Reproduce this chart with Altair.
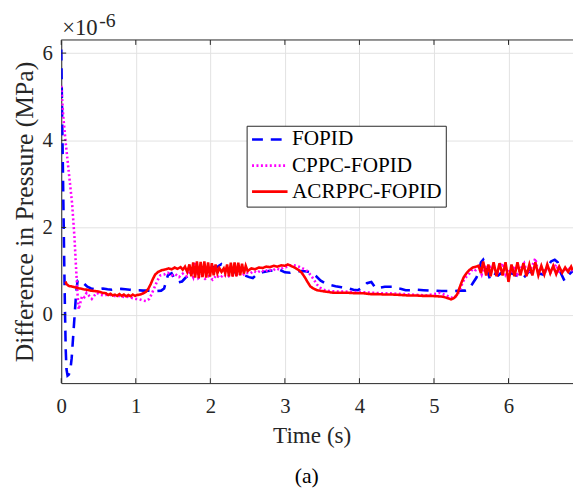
import altair as alt
import pandas as pd

# Series; values in units of 1e-6 MPa (axis shows x10^-6)
series_names = ["FOPID", "CPPC-FOPID", "ACRPPC-FOPID"]
series_colors = ["#0000ff", "#ff00ff", "#ff0000"]

fopid = [(0, 6.08), (0.01, 4.8), (0.02, 3.6), (0.03, 2.4), (0.04, 1.2), (0.05, 0.1), (0.06, -0.8),
         (0.07, -1.25), (0.085, -1.4), (0.1, -1.38), (0.12, -1.3), (0.14, -1.0), (0.16, -0.5),
         (0.18, 0.0), (0.2, 0.5), (0.22, 0.78), (0.25, 0.8), (0.3, 0.72), (0.35, 0.64), (0.4, 0.6),
         (0.45, 0.58), (0.5, 0.58), (0.56, 0.6), (0.62, 0.58), (0.68, 0.57), (0.74, 0.58), (0.8, 0.59),
         (0.86, 0.58), (0.92, 0.57), (0.98, 0.56), (1.04, 0.56), (1.1, 0.55), (1.16, 0.55), (1.22, 0.54),
         (1.28, 0.54), (1.34, 0.55), (1.38, 0.6), (1.43, 0.9), (1.48, 0.95), (1.52, 0.82), (1.57, 0.74),
         (1.62, 0.76), (1.67, 0.85), (1.72, 0.92), (1.8, 0.98), (1.88, 1.0), (1.95, 1.04), (2.02, 1.1),
         (2.08, 1.08), (2.15, 1.16), (2.22, 1.06), (2.3, 0.98), (2.38, 0.95), (2.46, 0.9), (2.52, 0.86),
         (2.57, 0.84), (2.63, 0.93), (2.7, 0.97), (2.78, 1.0), (2.86, 1.02), (2.93, 1.03), (3.0, 0.97),
         (3.07, 0.96), (3.15, 0.99), (3.23, 1.0), (3.3, 0.99), (3.36, 0.96), (3.42, 0.88), (3.48, 0.78),
         (3.54, 0.72), (3.6, 0.68), (3.68, 0.65), (3.76, 0.63), (3.84, 0.61), (3.92, 0.57), (3.98, 0.56),
         (4.04, 0.62), (4.1, 0.72), (4.16, 0.75), (4.22, 0.6), (4.28, 0.62), (4.34, 0.64), (4.4, 0.64),
         (4.47, 0.64), (4.54, 0.6), (4.62, 0.56), (4.7, 0.56), (4.78, 0.57), (4.86, 0.56), (4.94, 0.55),
         (5.02, 0.55), (5.1, 0.54), (5.18, 0.54), (5.26, 0.54), (5.34, 0.55), (5.42, 0.55), (5.47, 0.58),
         (5.52, 0.72), (5.57, 0.85), (5.6, 1.0), (5.63, 1.2), (5.66, 1.26), (5.7, 1.1), (5.75, 0.82),
         (5.8, 0.95), (5.86, 0.9), (5.92, 0.98), (5.98, 0.88), (6.04, 0.95), (6.1, 0.9), (6.16, 0.98),
         (6.22, 0.88), (6.28, 1.0), (6.34, 0.9), (6.4, 0.95), (6.46, 0.92), (6.52, 1.08), (6.57, 1.22),
         (6.62, 1.26), (6.66, 1.2), (6.7, 0.96), (6.75, 0.78), (6.8, 0.9), (6.86, 1.0)]

cppc_fopid = [(0, 5.25), (0.026, 4.57), (0.058, 3.97), (0.1, 3.29), (0.146, 2.54), (0.177, 1.78),
              (0.2, 1.03), (0.22, 0.43), (0.235, 0.12), (0.26, 0.3), (0.28, 0.43), (0.31, 0.4),
              (0.34, 0.5), (0.38, 0.42), (0.41, 0.36), (0.45, 0.45), (0.48, 0.5), (0.53, 0.45),
              (0.58, 0.44), (0.63, 0.47), (0.68, 0.44), (0.73, 0.42), (0.79, 0.43), (0.85, 0.4),
              (0.9, 0.41), (0.95, 0.38), (1.0, 0.36), (1.05, 0.35), (1.1, 0.32), (1.14, 0.31),
              (1.18, 0.36), (1.21, 0.46), (1.25, 0.62), (1.29, 0.78), (1.33, 0.9), (1.38, 0.92),
              (1.43, 0.96), (1.48, 0.9), (1.53, 0.93), (1.58, 0.86), (1.63, 0.94), (1.68, 0.88),
              (1.73, 1.0), (1.77, 0.86), (1.8, 1.2), (1.84, 0.84), (1.88, 0.9), (1.93, 0.82),
              (1.98, 0.88), (2.03, 0.8), (2.08, 0.9), (2.13, 0.84), (2.18, 0.92), (2.23, 0.86),
              (2.28, 0.92), (2.33, 0.88), (2.38, 0.95), (2.43, 0.9), (2.48, 0.96), (2.53, 0.94),
              (2.58, 1.0), (2.63, 0.96), (2.68, 1.02), (2.73, 0.98), (2.78, 1.04), (2.83, 1.0),
              (2.88, 1.06), (2.93, 1.03), (2.98, 1.08), (3.04, 1.1), (3.1, 1.14), (3.15, 1.12),
              (3.19, 1.1), (3.24, 1.06), (3.28, 1.03), (3.32, 0.96), (3.35, 0.9), (3.39, 0.8),
              (3.43, 0.69), (3.47, 0.62), (3.52, 0.57), (3.6, 0.54), (3.7, 0.53), (3.8, 0.53),
              (3.9, 0.52), (4.0, 0.52), (4.1, 0.51), (4.2, 0.5), (4.3, 0.49), (4.4, 0.49),
              (4.5, 0.48), (4.6, 0.47), (4.7, 0.46), (4.8, 0.45), (4.9, 0.44), (5.0, 0.47),
              (5.08, 0.5), (5.15, 0.45), (5.23, 0.39), (5.31, 0.43), (5.35, 0.58), (5.39, 0.76),
              (5.44, 0.88), (5.48, 0.95), (5.52, 1.05), (5.56, 1.02), (5.6, 1.1), (5.64, 0.92),
              (5.68, 1.15), (5.72, 0.95), (5.76, 1.1), (5.8, 1.14), (5.84, 0.9), (5.88, 1.05),
              (5.92, 1.18), (5.96, 0.92), (6.0, 1.05), (6.04, 0.95), (6.08, 1.1), (6.12, 0.92),
              (6.16, 1.05), (6.21, 1.18), (6.25, 0.95), (6.3, 1.05), (6.36, 1.29), (6.4, 0.95),
              (6.44, 1.05), (6.48, 0.92), (6.52, 1.1), (6.56, 0.95), (6.6, 1.05), (6.64, 1.15),
              (6.68, 0.95), (6.72, 1.05), (6.76, 0.98), (6.8, 1.08), (6.86, 1.0)]

acrppc_fopid = [(0.058, 0.76), (0.07, 0.7), (0.1, 0.66), (0.15, 0.64), (0.2, 0.62), (0.25, 0.6),
                (0.3, 0.58), (0.35, 0.57), (0.4, 0.55), (0.45, 0.54), (0.5, 0.53), (0.55, 0.5),
                (0.6, 0.49), (0.63, 0.45), (0.66, 0.48), (0.69, 0.44), (0.72, 0.46), (0.75, 0.43),
                (0.78, 0.47), (0.81, 0.43), (0.84, 0.46), (0.87, 0.42), (0.9, 0.45), (0.93, 0.42),
                (0.96, 0.46), (0.99, 0.43), (1.02, 0.45), (1.06, 0.46), (1.1, 0.49), (1.14, 0.53),
                (1.17, 0.6), (1.2, 0.7), (1.23, 0.82), (1.26, 0.92), (1.3, 0.98), (1.35, 1.02),
                (1.4, 1.04), (1.44, 1.06), (1.48, 1.04), (1.52, 1.08), (1.56, 1.05), (1.6, 1.09),
                (1.63, 1.03), (1.66, 1.1), (1.69, 0.98), (1.72, 1.15), (1.745, 0.88), (1.77, 1.2),
                (1.795, 0.85), (1.82, 1.22), (1.845, 0.84), (1.87, 1.21), (1.895, 0.86), (1.92, 1.22),
                (1.945, 0.85), (1.97, 1.2), (1.995, 0.87), (2.02, 1.18), (2.045, 0.9), (2.07, 1.15),
                (2.095, 0.95), (2.12, 1.07), (2.15, 0.98), (2.18, 1.06), (2.2, 0.95), (2.225, 1.15),
                (2.25, 0.88), (2.275, 1.19), (2.3, 0.87), (2.325, 1.2), (2.35, 0.88), (2.375, 1.19),
                (2.4, 0.9), (2.425, 1.17), (2.45, 0.94), (2.475, 1.12), (2.5, 1.0), (2.55, 1.06),
                (2.6, 1.04), (2.65, 1.08), (2.7, 1.07), (2.75, 1.1), (2.8, 1.09), (2.85, 1.12),
                (2.9, 1.1), (2.95, 1.13), (3.0, 1.12), (3.04, 1.15), (3.08, 1.12), (3.14, 1.07),
                (3.19, 1.02), (3.23, 0.95), (3.27, 0.85), (3.3, 0.76), (3.34, 0.65), (3.38, 0.6),
                (3.43, 0.56), (3.5, 0.54), (3.58, 0.52), (3.65, 0.5), (3.75, 0.5), (3.85, 0.5),
                (3.95, 0.49), (4.05, 0.49), (4.15, 0.47), (4.25, 0.47), (4.35, 0.46), (4.45, 0.46),
                (4.55, 0.45), (4.65, 0.44), (4.75, 0.44), (4.85, 0.43), (4.95, 0.43), (5.05, 0.42),
                (5.12, 0.41), (5.18, 0.38), (5.23, 0.35), (5.27, 0.38), (5.31, 0.46), (5.34, 0.6),
                (5.37, 0.74), (5.4, 0.86), (5.44, 0.96), (5.48, 1.03), (5.52, 1.08), (5.56, 1.1),
                (5.6, 1.12), (5.63, 0.95), (5.66, 1.22), (5.7, 0.9), (5.73, 1.15), (5.76, 0.88),
                (5.8, 1.2), (5.84, 0.88), (5.88, 1.18), (5.92, 0.9), (5.96, 1.2), (6.0, 0.75),
                (6.04, 1.15), (6.08, 0.88), (6.12, 1.2), (6.16, 0.9), (6.2, 1.18), (6.24, 0.88),
                (6.28, 1.15), (6.32, 0.9), (6.36, 1.2), (6.4, 0.9), (6.44, 1.12), (6.48, 0.92),
                (6.52, 1.15), (6.56, 0.95), (6.6, 1.12), (6.64, 0.93), (6.68, 1.1), (6.72, 0.96),
                (6.76, 1.08), (6.8, 0.98), (6.84, 1.1), (6.86, 1.02)]

x_ticks = [0, 1, 2, 3, 4, 5, 6]
y_ticks = [0, 2, 4, 6]

rows = []
for name, pts in zip(series_names, [fopid, cppc_fopid, acrppc_fopid]):
    for t, v in pts:
        rows.append({"series": name, "t": t, "v": v})
df = pd.DataFrame(rows)
xtick_df = pd.DataFrame({"t": x_ticks})
ytick_df = pd.DataFrame({"v": y_ticks})
one = pd.DataFrame({"k": [0]})

W, H = 519, 348
FONT = "Liberation Serif"
INK = "#262626"

xs = alt.Scale(domain=[0, 6.865], nice=False, zero=False)
ys = alt.Scale(domain=[-1.572, 6.301], nice=False, zero=False)
cs = alt.Scale(domain=series_names, range=series_colors)
ds = alt.Scale(domain=series_names, range=[[11, 8], [2, 2.5], [1, 0]])

xaxis = alt.Axis(values=x_ticks, format="d", title="Time (s)", labelFont=FONT, labelFontSize=21,
                 labelColor=INK, titleFont=FONT, titleFontSize=23.5, titleFontWeight="normal",
                 titleColor=INK, domainColor=INK, domainWidth=1, ticks=False, tickSize=0,
                 labelPadding=13, titlePadding=7, titleX=254, grid=True, gridColor="#e2e2e2",
                 gridWidth=1, labelFlush=False)
yaxis = alt.Axis(values=y_ticks, format="d", title="Difference in Pressure (MPa)", labelFont=FONT,
                 labelFontSize=21, labelColor=INK, titleFont=FONT, titleFontSize=26,
                 titleFontWeight="normal", titleColor=INK, domainColor=INK, domainWidth=1,
                 ticks=False, tickSize=0, labelPadding=9, titlePadding=5, grid=True,
                 gridColor="#e2e2e2", gridWidth=1, labelFlush=False)

legend = alt.Legend(title=None, orient="none", legendX=188, legendY=87, direction="vertical",
                    symbolType="stroke", symbolSize=1296, symbolStrokeWidth=2.6, clipHeight=20,
                    rowPadding=4.4, padding=4, labelFont=FONT, labelFontSize=21.5, labelColor="black",
                    labelOffset=3, strokeColor=INK, fillColor="white", labelLimit=400, cornerRadius=0)


def series_line(name):
    return alt.Chart(df).transform_filter(alt.datum.series == name).mark_line(
        strokeWidth=2.6, clip=True).encode(
        x=alt.X("t:Q", scale=xs, axis=xaxis),
        y=alt.Y("v:Q", scale=ys, axis=yaxis),
        color=alt.Color("series:N", scale=cs, legend=legend),
        strokeDash=alt.StrokeDash("series:N", scale=ds, legend=legend),
        order=alt.Order("t:Q"),
    )


bottom_ticks = alt.Chart(xtick_df).mark_rule(color=INK, strokeWidth=1).encode(
    x=alt.X("t:Q", scale=xs, axis=xaxis), y=alt.value(H - 5), y2=alt.value(H))
top_ticks = alt.Chart(xtick_df).mark_rule(color=INK, strokeWidth=1).encode(
    x=alt.X("t:Q", scale=xs, axis=xaxis), y=alt.value(0), y2=alt.value(5))
left_ticks = alt.Chart(ytick_df).mark_rule(color=INK, strokeWidth=1).encode(
    y=alt.Y("v:Q", scale=ys, axis=yaxis), x=alt.value(0), x2=alt.value(5))
top_border = alt.Chart(one).mark_rule(color=INK, strokeWidth=1).encode(
    x=alt.value(0), x2=alt.value(W), y=alt.value(0))

exp_base = alt.Chart(one).mark_text(text="×10", font=FONT, fontSize=23, align="left",
                                    baseline="alphabetic", color=INK).encode(
    x=alt.value(1), y=alt.value(-5.5))
exp_sup = alt.Chart(one).mark_text(text="-6", font=FONT, fontSize=20, align="left",
                                   baseline="alphabetic", color=INK).encode(
    x=alt.value(38.5), y=alt.value(-13.5))
caption = alt.Chart(one).mark_text(text="(a)", font=FONT, fontSize=22, align="center",
                                   baseline="alphabetic", color="black").encode(
    x=alt.value(249), y=alt.value(449.5))

chart = alt.layer(
    series_line("FOPID"), series_line("CPPC-FOPID"), series_line("ACRPPC-FOPID"),
    bottom_ticks, top_ticks, left_ticks, top_border, exp_base, exp_sup, caption,
).properties(
    width=W, height=H,
    autosize=alt.AutoSizeParams(type="none"),
    padding={"left": 54, "top": 29, "right": 0, "bottom": 108},
    background="white",
).configure_view(stroke=None)

chart.save("out.html", embed_options={"renderer": "svg", "actions": False})
